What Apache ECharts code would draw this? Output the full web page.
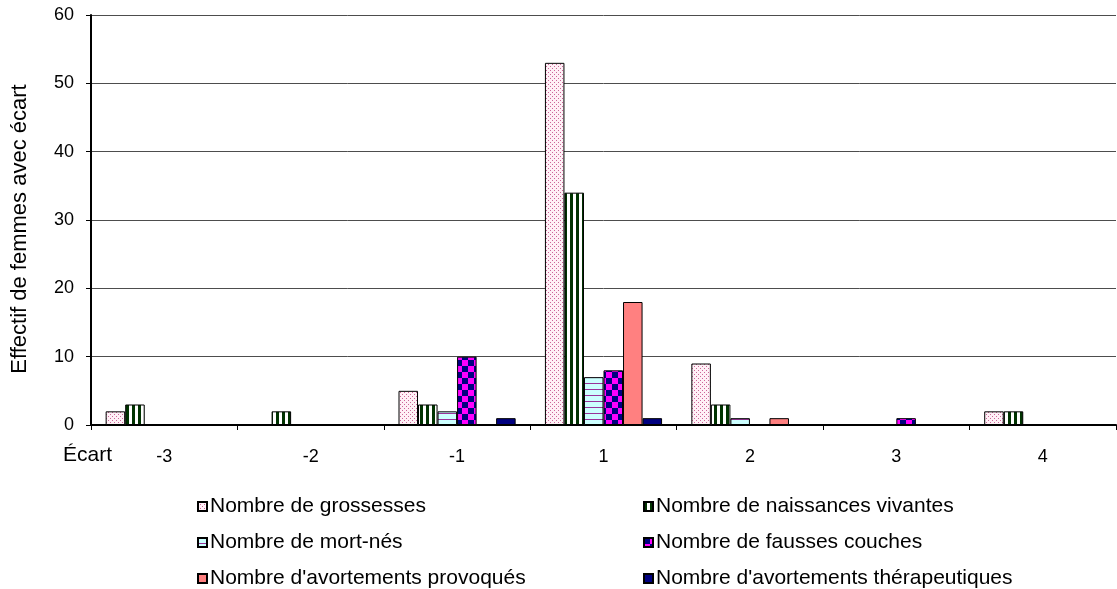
<!DOCTYPE html>
<html>
<head>
<meta charset="utf-8">
<script src="https://cdn.jsdelivr.net/npm/echarts@6/dist/echarts.min.js"></script>
<style>
  html, body { margin: 0; padding: 0; background: #fff; }
  #chart { width: 1117px; height: 589px; }
</style>
</head>
<body>
<div id="chart"></div>
<script>
// Écarts (categories) and counts of women for each indicator
const categories = ['-3', '-2', '-1', '1', '2', '3', '4'];
const grossesses      = [2, 0, 5, 53, 9, 0, 2];
const naissances      = [3, 2, 3, 34, 3, 0, 2];
const mortNes         = [0, 0, 2, 7, 1, 0, 0];
const faussesCouches  = [0, 0, 10, 8, 0, 1, 0];
const avortProvoques  = [0, 0, 0, 18, 1, 0, 0];
const avortTherap     = [0, 0, 1, 1, 0, 0, 0];
const yTicks = { min: 0, max: 60, interval: 10 };

const seriesNames = [
  'Nombre de grossesses',
  'Nombre de naissances vivantes',
  'Nombre de mort-nés',
  'Nombre de fausses couches',
  "Nombre d'avortements provoqués",
  "Nombre d'avortements thérapeutiques"
];

// Small canvas tiles used as fill patterns
function tile(w, h, draw) {
  const c = document.createElement('canvas');
  c.width = w; c.height = h;
  const g = c.getContext('2d');
  draw(g);
  return { image: c, repeat: 'repeat' };
}
const dotted = tile(4, 4, g => {
  g.fillStyle = '#fff0f6'; g.fillRect(0, 0, 4, 4);
  g.fillStyle = '#cc6699';
  g.fillRect(0, 0, 1, 1); g.fillRect(2, 2, 1, 1);
});
const vStripes = tile(6, 4, g => {
  g.fillStyle = '#ffffff'; g.fillRect(0, 0, 6, 4);
  g.fillStyle = '#003300'; g.fillRect(0, 0, 3, 4);
});
const hStripes = tile(4, 6, g => {
  g.fillStyle = '#ccffff'; g.fillRect(0, 0, 4, 6);
  g.fillStyle = '#993399'; g.fillRect(0, 5, 4, 1);
});
const checker = tile(12, 12, g => {
  g.fillStyle = '#ff00ff'; g.fillRect(0, 0, 12, 12);
  g.fillStyle = '#000080';
  g.fillRect(0, 0, 6, 6); g.fillRect(6, 6, 6, 6);
});

const fills = [dotted, vStripes, hStripes, checker, '#ff8080', '#000080'];
const values = [grossesses, naissances, mortNes, faussesCouches, avortProvoques, avortTherap];

const font = "'Liberation Sans', Arial, sans-serif";

const legendCommon = {
  orient: 'vertical', top: 491, height: 120,
  icon: 'rect', itemWidth: 9, itemHeight: 9, itemGap: 15,
  textStyle: { fontSize: 21, color: '#000', fontFamily: font, padding: [0, 0, 0, -2] },
  selectedMode: false
};

const chart = echarts.init(document.getElementById('chart'), null, { renderer: 'canvas' });

chart.setOption({
  animation: false,
  backgroundColor: '#ffffff',
  textStyle: { fontFamily: font, color: '#000' },
  grid: { left: 91, right: 1, top: 15, bottom: 164, containLabel: false },
  xAxis: {
    type: 'category',
    data: categories,
    axisLine: { lineStyle: { color: '#000', width: 2 } },
    axisTick: { show: true, length: 5, inside: false, lineStyle: { color: '#000' } },
    axisLabel: { fontSize: 18, color: '#000', margin: 23, fontFamily: font },
    splitLine: { show: false }
  },
  yAxis: {
    type: 'value',
    min: yTicks.min, max: yTicks.max, interval: yTicks.interval,
    name: 'Effectif de femmes avec écart',
    nameLocation: 'middle',
    nameGap: 60,
    nameTextStyle: { fontSize: 22, color: '#000', fontFamily: font, padding: [0, 18, 0, 0] },
    axisLine: { show: true, lineStyle: { color: '#000', width: 2 } },
    axisTick: { show: true, length: 5, lineStyle: { color: '#000' } },
    axisLabel: { fontSize: 18, color: '#000', margin: 17, fontFamily: font },
    splitLine: { show: true, lineStyle: { color: '#4d4d4d', width: 1 } }
  },
  graphic: [{
    type: 'text',
    left: 63, top: 445,
    style: { text: 'Écart', fontSize: 21, fill: '#000', fontFamily: font }
  }],
  legend: [
    Object.assign({ data: [seriesNames[0], seriesNames[2], seriesNames[4]], left: 192 }, legendCommon),
    Object.assign({ data: [seriesNames[1], seriesNames[3], seriesNames[5]], left: 638 }, legendCommon)
  ],
  series: seriesNames.map((name, i) => ({
    name,
    type: 'bar',
    data: values[i],
    barGap: '0%',
    barCategoryGap: '20%',
    itemStyle: { color: fills[i], borderColor: '#000', borderWidth: 1 },
    emphasis: { disabled: true }
  }))
});
</script>
</body>
</html>
